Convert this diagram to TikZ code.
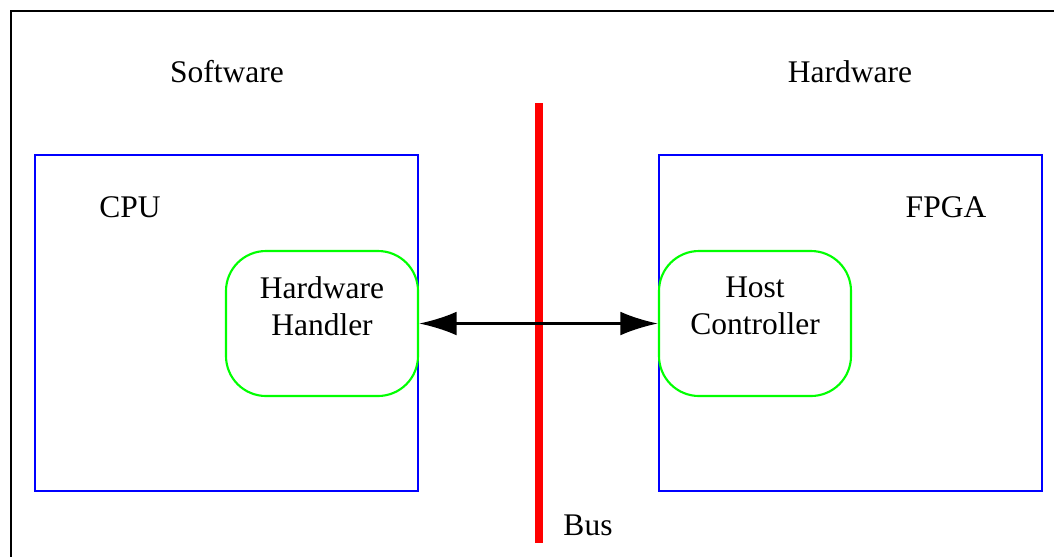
\documentclass[tikz,border=0pt]{standalone}
\usepackage{fontspec}
\setmainfont{Liberation Serif}
\usetikzlibrary{arrows.meta, positioning}

\begin{document}
\begin{tikzpicture}[x=0.4pt, y=-0.4pt, >={Latex[length=15pt, width=9.5pt]},
    font=\fontsize{12.6}{14.8}\selectfont]
    \tikzset{
        side/.style={draw=blue, line width=0.45pt, minimum width=153.2pt, minimum height=134.4pt, inner sep=0pt},
        module/.style={draw=green, line width=0.85pt, rounded corners=16pt, minimum width=76.8pt, minimum height=58pt, inner sep=0pt},
        caption/.style={inner sep=0pt, align=center}
    }

        \useasboundingbox (0,0) rectangle (1054,556);
        \draw[line width=1pt] (11,11) rectangle (1070,570);

        % the two sides of the bus
        \node[side] (cpu)  at (226.5,323) {};
        \node[side] (fpga) at (850.5,323) {};
        \node[caption] (sw) at (227,72) {Software};
        \node[caption] (hw) at (850,72) {Hardware};
        \node[caption] (cpulabel)  at (130,207) {CPU};
        \node[caption] (fpgalabel) at (946,207) {FPGA};

        % modules on each side
        \node[module] (handler) at (322,323.5) {};
        \node[module] (host)    at (755,323.5) {};
        \node[caption, below=10.4pt of handler.north] {Hardware\\Handler};
        \node[caption, below=10.4pt of host.north] {Host\\Controller};

        % the bus itself
        \coordinate (bustop) at (539,103);
        \coordinate (busbot) at (539,543);
        \draw[red, line width=3.2pt] (bustop) -- (busbot);
        \node[caption] (buslabel) at (588,525) {Bus};

        \draw[<->, line width=1.1pt] (handler.east) -- (host.west);

    \end{tikzpicture}
\end{document}
